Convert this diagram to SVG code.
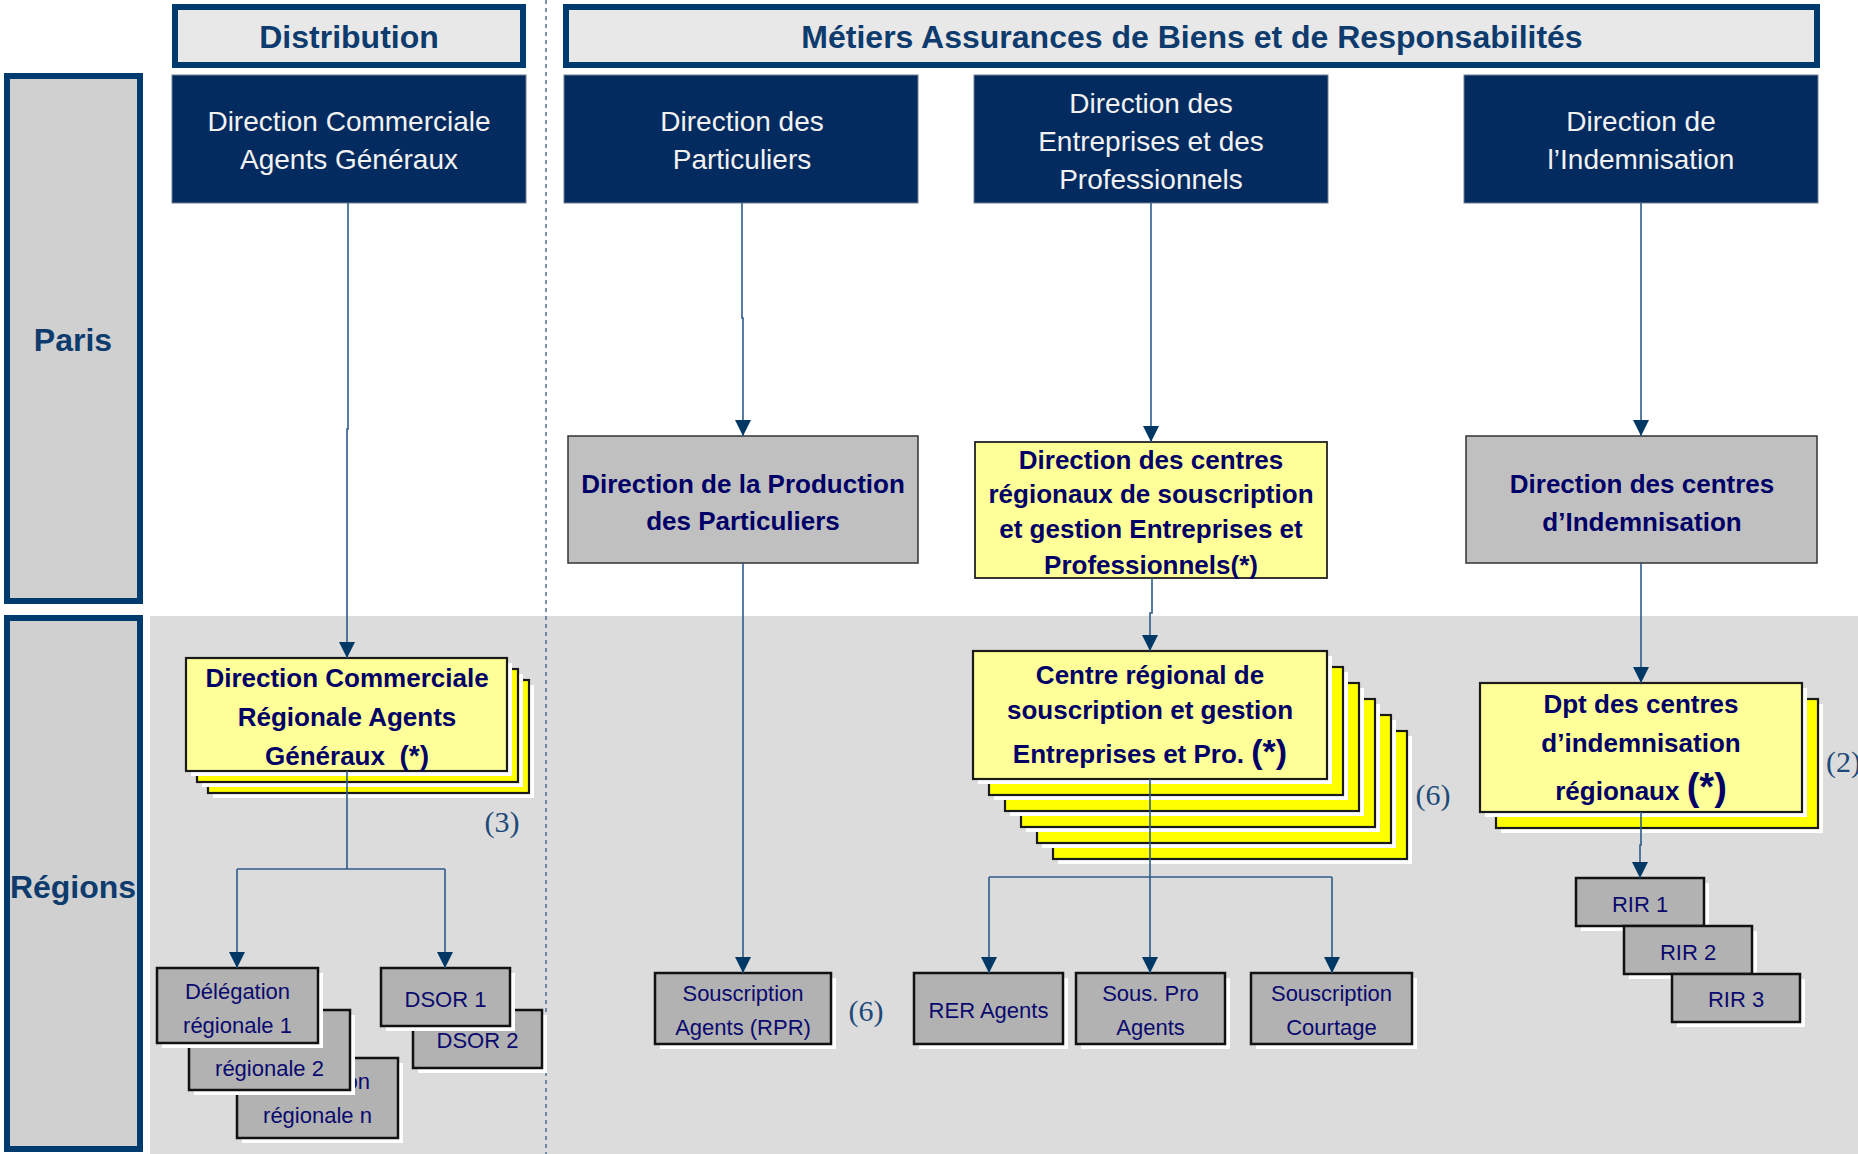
<svg xmlns="http://www.w3.org/2000/svg" width="1858" height="1154" viewBox="0 0 1858 1154">
  <style>
    .hdr { fill: #E8E8E8; stroke: #003B70; stroke-width: 6; }
    .side { fill: #D0D0D0; stroke: #003B70; stroke-width: 6; }
    .navy { fill: #032B5F; stroke: #6F7F8F; stroke-width: 1; }
    .mid { fill: #C0C0C0; stroke: #333333; stroke-width: 1.5; }
    .ymid { fill: #FFFF99; stroke: #222222; stroke-width: 1.8; }
    .yf { fill: #FFFF99; stroke: #1A1A1A; stroke-width: 2.2; }
    .yb { fill: #FFFF00; stroke: #1A1A1A; stroke-width: 2.2; }
    .sm { fill: #B2B2B2; stroke: #111111; stroke-width: 2.5; }
    .shd { fill: #FFFFFF; }
    .title { font-family: "Liberation Sans", Arial, sans-serif; font-weight: bold; font-size: 32px; fill: #0D3B6E; text-anchor: middle; }
    .wt { font-family: "Liberation Sans", Arial, sans-serif; font-size: 28px; fill: #F2F2F2; text-anchor: middle; }
    .bt { font-family: "Liberation Sans", Arial, sans-serif; font-weight: bold; font-size: 26px; fill: #000066; text-anchor: middle; }
    .st { font-family: "Liberation Sans", Arial, sans-serif; font-size: 22px; fill: #0A0A6E; text-anchor: middle; }
    .cnt { font-family: "Liberation Serif", "Times New Roman", serif; font-size: 30px; fill: #1C4A78; text-anchor: middle; }
    .cnt.edge { text-anchor: start; }
    .link { fill: none; stroke: #2E5C8A; stroke-width: 1.6; }
    .sep { fill: none; stroke: #4A6F96; stroke-width: 1.5; stroke-dasharray: 4 4; }
  </style>
  <defs>
    <marker id="arrow" markerUnits="userSpaceOnUse" markerWidth="16" markerHeight="16" refX="16" refY="8" orient="auto">
      <path d="M0,0 L16,8 L0,16 z" fill="#003865"/>
    </marker>
  </defs>

  <!-- background -->
  <rect x="0" y="0" width="1858" height="1154" fill="#FFFFFF"/>
  <rect x="150" y="616" width="1708" height="538" fill="#DCDCDC"/>
  <line class="sep" x1="546" y1="0" x2="546" y2="1154"/>

  <!-- side bands -->
  <g id="paris">
    <rect class="side" x="7" y="76" width="133" height="525"/>
    <text class="title" x="73" y="351">Paris</text>
  </g>
  <g id="regions">
    <rect class="side" x="7" y="618" width="133" height="531"/>
    <text class="title" x="73" y="898">Régions</text>
  </g>

  <!-- column headers -->
  <g id="hdr-distribution">
    <rect class="hdr" x="175" y="7" width="348" height="58"/>
    <text class="title" x="349" y="48">Distribution</text>
  </g>
  <g id="hdr-metiers">
    <rect class="hdr" x="566" y="7" width="1251" height="58"/>
    <text class="title" x="1192" y="48">Métiers Assurances de Biens et de Responsabilités</text>
  </g>

  <!-- head offices -->
  <g id="dcag">
    <rect class="navy" x="172" y="75" width="354" height="128"/>
    <text class="wt" x="349" y="131">Direction Commerciale</text>
    <text class="wt" x="349" y="169">Agents Généraux</text>
  </g>
  <g id="dpart">
    <rect class="navy" x="564" y="75" width="354" height="128"/>
    <text class="wt" x="742" y="131">Direction des</text>
    <text class="wt" x="742" y="169">Particuliers</text>
  </g>
  <g id="dep">
    <rect class="navy" x="974" y="75" width="354" height="128"/>
    <text class="wt" x="1151" y="113">Direction des</text>
    <text class="wt" x="1151" y="151">Entreprises et des</text>
    <text class="wt" x="1151" y="189">Professionnels</text>
  </g>
  <g id="dind">
    <rect class="navy" x="1464" y="75" width="354" height="128"/>
    <text class="wt" x="1641" y="131">Direction de</text>
    <text class="wt" x="1641" y="169">l’Indemnisation</text>
  </g>

  <!-- second level -->
  <g id="dpp">
    <rect class="mid" x="568" y="436" width="350" height="127"/>
    <text class="bt" x="743" y="493">Direction de la Production</text>
    <text class="bt" x="743" y="530">des Particuliers</text>
  </g>
  <g id="dcrs">
    <rect class="ymid" x="975" y="442" width="352" height="136"/>
    <text class="bt" x="1151" y="469">Direction des centres</text>
    <text class="bt" x="1151" y="503">régionaux de souscription</text>
    <text class="bt" x="1151" y="538">et gestion Entreprises et</text>
    <text class="bt" x="1151" y="574">Professionnels(*)</text>
  </g>
  <g id="dci">
    <rect class="mid" x="1466" y="436" width="351" height="127"/>
    <text class="bt" x="1642" y="493">Direction des centres</text>
    <text class="bt" x="1642" y="531">d’Indemnisation</text>
  </g>

  <!-- regional directions (stacked) -->
  <g id="dcrag">
    <rect class="shd" x="213" y="685" width="321" height="113"/>
    <rect class="yb" x="208" y="680" width="321" height="113"/>
    <rect class="shd" x="202" y="674" width="321" height="113"/>
    <rect class="yb" x="197" y="669" width="321" height="113"/>
    <rect class="shd" x="191" y="663" width="321" height="113"/>
    <rect class="yf" x="186" y="658" width="321" height="113"/>
    <text class="bt" x="347" y="687">Direction Commerciale</text>
    <text class="bt" x="347" y="726">Régionale Agents</text>
    <text class="bt" x="347" y="765" xml:space="preserve">Généraux  <tspan font-size="28px">(*)</tspan></text>
    <text class="cnt" x="502" y="832">(3)</text>
  </g>
  <g id="crsg">
    <rect class="shd" x="1058" y="736" width="354" height="128"/>
    <rect class="yb" x="1053" y="731" width="354" height="128"/>
    <rect class="shd" x="1042" y="720" width="354" height="128"/>
    <rect class="yb" x="1037" y="715" width="354" height="128"/>
    <rect class="shd" x="1026" y="704" width="354" height="128"/>
    <rect class="yb" x="1021" y="699" width="354" height="128"/>
    <rect class="shd" x="1010" y="688" width="354" height="128"/>
    <rect class="yb" x="1005" y="683" width="354" height="128"/>
    <rect class="shd" x="994" y="672" width="354" height="128"/>
    <rect class="yb" x="989" y="667" width="354" height="128"/>
    <rect class="shd" x="978" y="656" width="354" height="128"/>
    <rect class="yf" x="973" y="651" width="354" height="128"/>
    <text class="bt" x="1150" y="684">Centre régional de</text>
    <text class="bt" x="1150" y="719">souscription et gestion</text>
    <text class="bt" x="1150" y="763">Entreprises et Pro. <tspan font-size="34px">(*)</tspan></text>
    <text class="cnt" x="1433" y="805">(6)</text>
  </g>
  <g id="dpt">
    <rect class="shd" x="1501" y="704" width="322" height="129"/>
    <rect class="yb" x="1496" y="699" width="322" height="129"/>
    <rect class="shd" x="1485" y="688" width="322" height="129"/>
    <rect class="yf" x="1480" y="683" width="322" height="129"/>
    <text class="bt" x="1641" y="713">Dpt des centres</text>
    <text class="bt" x="1641" y="752">d’indemnisation</text>
    <text class="bt" x="1641" y="800">régionaux <tspan font-size="38px">(*)</tspan></text>
    <text class="cnt edge" x="1826" y="772">(2)</text>
  </g>

  <!-- local units -->
  <g id="drn">
    <rect class="shd" x="242" y="1063" width="161" height="80"/>
    <rect class="sm" x="237" y="1058" width="161" height="80"/>
    <text class="st" x="317.5" y="1089">Délégation</text>
    <text class="st" x="317.5" y="1123">régionale n</text>
  </g>
  <g id="dr2">
    <rect class="shd" x="194" y="1015" width="161" height="80"/>
    <rect class="sm" x="189" y="1010" width="161" height="80"/>
    <text class="st" x="269.5" y="1042">Délégation</text>
    <text class="st" x="269.5" y="1076">régionale 2</text>
  </g>
  <g id="dr1">
    <rect class="shd" x="162" y="973" width="161" height="75"/>
    <rect class="sm" x="157" y="968" width="161" height="75"/>
    <text class="st" x="237.5" y="999">Délégation</text>
    <text class="st" x="237.5" y="1033">régionale 1</text>
  </g>
  <g id="dsor2">
    <rect class="shd" x="418" y="1015" width="129" height="58"/>
    <rect class="sm" x="413" y="1010" width="129" height="58"/>
    <text class="st" x="477.5" y="1048">DSOR 2</text>
  </g>
  <g id="dsor1">
    <rect class="shd" x="386" y="973" width="129" height="58"/>
    <rect class="sm" x="381" y="968" width="129" height="58"/>
    <text class="st" x="445.5" y="1007">DSOR 1</text>
  </g>
  <g id="rpr">
    <rect class="shd" x="660" y="978" width="176" height="71"/>
    <rect class="sm" x="655" y="973" width="176" height="71"/>
    <text class="st" x="743" y="1001">Souscription</text>
    <text class="st" x="743" y="1035">Agents (RPR)</text>
    <text class="cnt" x="866" y="1021">(6)</text>
  </g>
  <g id="rer">
    <rect class="shd" x="919" y="978" width="149" height="71"/>
    <rect class="sm" x="914" y="973" width="149" height="71"/>
    <text class="st" x="988.5" y="1018">RER Agents</text>
  </g>
  <g id="souspro">
    <rect class="shd" x="1081" y="978" width="149" height="71"/>
    <rect class="sm" x="1076" y="973" width="149" height="71"/>
    <text class="st" x="1150.5" y="1001">Sous. Pro</text>
    <text class="st" x="1150.5" y="1035">Agents</text>
  </g>
  <g id="courtage">
    <rect class="shd" x="1256" y="978" width="161" height="71"/>
    <rect class="sm" x="1251" y="973" width="161" height="71"/>
    <text class="st" x="1331.5" y="1001">Souscription</text>
    <text class="st" x="1331.5" y="1035">Courtage</text>
  </g>
  <g id="rir1">
    <rect class="shd" x="1581" y="883" width="128" height="48"/>
    <rect class="sm" x="1576" y="878" width="128" height="48"/>
    <text class="st" x="1640" y="912">RIR 1</text>
  </g>
  <g id="rir2">
    <rect class="shd" x="1629" y="931" width="128" height="48"/>
    <rect class="sm" x="1624" y="926" width="128" height="48"/>
    <text class="st" x="1688" y="960">RIR 2</text>
  </g>
  <g id="rir3">
    <rect class="shd" x="1677" y="979" width="128" height="48"/>
    <rect class="sm" x="1672" y="974" width="128" height="48"/>
    <text class="st" x="1736" y="1007">RIR 3</text>
  </g>

  <!-- connectors -->
  <g id="connectors">
    <path class="link" d="M348,203 V429 H347 V658" marker-end="url(#arrow)"/>
    <path class="link" d="M347,771 V869"/>
    <path class="link" d="M237,869 H445"/>
    <path class="link" d="M237,869 V968" marker-end="url(#arrow)"/>
    <path class="link" d="M445,869 V968" marker-end="url(#arrow)"/>
    <path class="link" d="M742,203 V318 H743 V436" marker-end="url(#arrow)"/>
    <path class="link" d="M743,563 V973" marker-end="url(#arrow)"/>
    <path class="link" d="M1151,203 V442" marker-end="url(#arrow)"/>
    <path class="link" d="M1152,578 V613 H1150 V651" marker-end="url(#arrow)"/>
    <path class="link" d="M1150,779 V877"/>
    <path class="link" d="M989,877 H1332"/>
    <path class="link" d="M989,877 V973" marker-end="url(#arrow)"/>
    <path class="link" d="M1150,877 V973" marker-end="url(#arrow)"/>
    <path class="link" d="M1332,877 V973" marker-end="url(#arrow)"/>
    <path class="link" d="M1641,203 V436" marker-end="url(#arrow)"/>
    <path class="link" d="M1641,563 V683" marker-end="url(#arrow)"/>
    <path class="link" d="M1641,812 V845 H1640 V878" marker-end="url(#arrow)"/>
  </g>
</svg>
